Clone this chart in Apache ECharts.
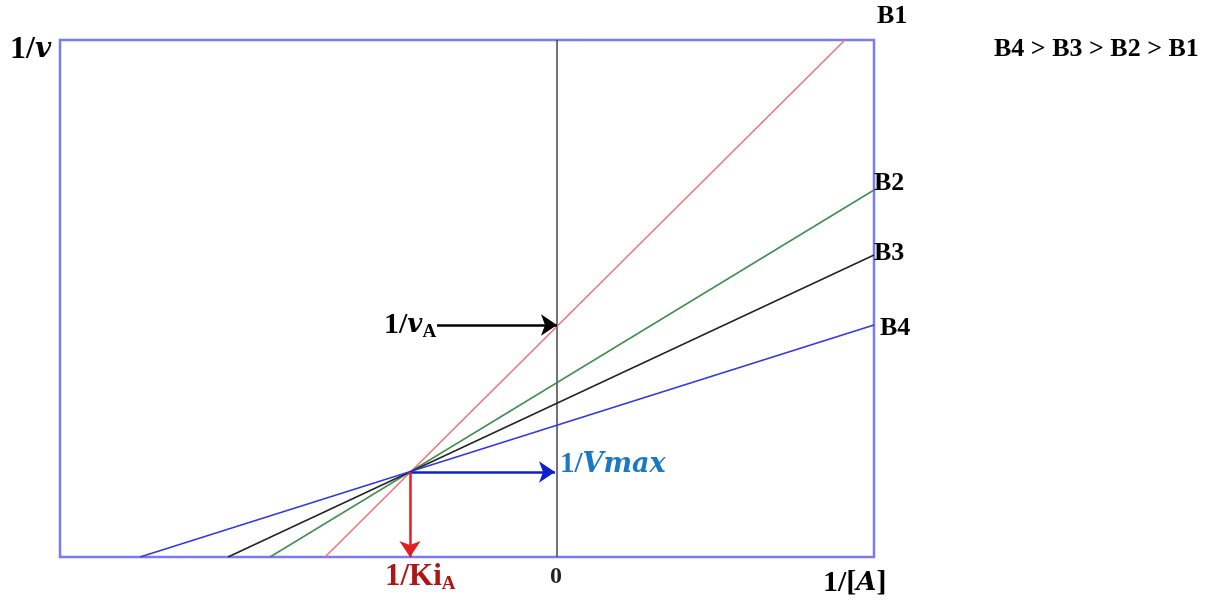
<!DOCTYPE html>
<html>
<head>
<meta charset="utf-8">
<script src="https://cdn.jsdelivr.net/npm/echarts@6/dist/echarts.min.js"></script>
<style>
  html, body { margin: 0; padding: 0; background: #fff; }
  #chart { width: 1221px; height: 605px; }
</style>
</head>
<body>
<div id="chart"></div>
<script>
// x = 1/[A], y = 1/v (arbitrary units)
const xRange = [-4.97, 3.17]
const yRange = [0, 5.17]
const seriesNames = ['B1', 'B2', 'B3', 'B4']
const b1Line = [[-2.32, 0], [2.88, 5.17]]
const b2Line = [[-2.87, 0], [3.17, 3.67]]
const b3Line = [[-3.29, 0], [3.17, 3.02]]
const b4Line = [[-4.17, 0], [3.17, 2.32]]
const yAxisLine = [[0, 0], [0, 5.17]]
const vaArrow = [[-1.2, 2.32], [0, 2.32]]
const vmaxArrow = [[-1.47, 0.85], [-0.02, 0.85]]
const kiArrow = [[-1.47, 0.85], [-1.47, 0]]

const serif = '"Liberation Serif", serif'
const math = '"DejaVu Serif", serif'

const chart = echarts.init(document.getElementById('chart'))

function lineSeries(name, data, color) {
  return {
    name: name,
    type: 'line',
    data: data,
    symbol: 'none',
    silent: true,
    lineStyle: { color: color, width: 1.5 },
    z: 3,
  }
}

function arrow(data, color) {
  return {
    type: 'lines',
    coordinateSystem: 'cartesian2d',
    polyline: false,
    silent: true,
    symbol: ['none', 'arrow'],
    symbolSize: [10, 16],
    lineStyle: { color: color, width: 2.5, opacity: 1 },
    data: [{ coords: data }],
    z: 5,
  }
}

const option = {
  backgroundColor: '#fff',
  animation: false,
  grid: {
    left: 60,
    right: 347,
    top: 40,
    bottom: 48,
    show: true,
    borderColor: '#7b7bf0',
    borderWidth: 2.5,
    backgroundColor: 'transparent',
  },
  xAxis: {
    type: 'value',
    min: xRange[0],
    max: xRange[1],
    axisLine: { show: false },
    axisTick: { show: false },
    axisLabel: { show: false },
    splitLine: { show: false },
  },
  yAxis: {
    type: 'value',
    min: yRange[0],
    max: yRange[1],
    axisLine: { show: false },
    axisTick: { show: false },
    axisLabel: { show: false },
    splitLine: { show: false },
  },
  series: [
    lineSeries('axis', yAxisLine, '#444'),
    lineSeries(seriesNames[0], b1Line, '#f07272'),
    lineSeries(seriesNames[1], b2Line, '#3f9050'),
    lineSeries(seriesNames[2], b3Line, '#222'),
    lineSeries(seriesNames[3], b4Line, '#3038e0'),
    arrow(vaArrow, '#000'),
    arrow(vmaxArrow, '#1020d0'),
    arrow(kiArrow, '#e02020'),
  ],
  graphic: [
    {
      type: 'text', left: 10, top: 34,
      style: {
        text: '{n|1/}{i|v}',
        rich: {
          n: { font: 'bold 32px ' + serif, fill: '#000' },
          i: { font: 'bold italic 28px ' + math, fill: '#000' },
        },
      },
    },
    {
      type: 'text', left: 384, top: 310,
      style: {
        text: '{n|1/}{i|v}{s|A}',
        rich: {
          n: { font: 'bold 30px ' + serif, fill: '#000' },
          i: { font: 'bold italic 26px ' + math, fill: '#000' },
          s: { font: 'bold 19px ' + serif, fill: '#000', padding: [14, 0, 0, 0] },
        },
      },
    },
    {
      type: 'text', left: 560, top: 450,
      style: {
        text: '{n|1/}{i|Vmax}',
        rich: {
          n: { font: 'bold 29px ' + serif, fill: '#1a78c8' },
          i: { font: 'bold italic 27px ' + math, fill: '#1a78c8' },
        },
      },
    },
    {
      type: 'text', left: 385, top: 561,
      style: {
        text: '{n|1/Ki}{s|A}',
        rich: {
          n: { font: 'bold 31px ' + serif, fill: '#b01414' },
          s: { font: 'bold 19px ' + serif, fill: '#b01414', padding: [15, 0, 0, 0] },
        },
      },
    },
    {
      type: 'text', left: 550, top: 565,
      style: { text: '0', font: 'bold 24px ' + serif, fill: '#222' },
    },
    {
      type: 'text', left: 823, top: 568,
      style: {
        text: '{n|1/[}{i|A}{n|]}',
        rich: {
          n: { font: 'bold 30px ' + serif, fill: '#000' },
          i: { font: 'bold italic 26px ' + math, fill: '#000' },
        },
      },
    },
    { type: 'text', left: 877, top: 3, style: { text: 'B1', font: 'bold 26px ' + serif, fill: '#000' } },
    { type: 'text', left: 874, top: 170, style: { text: 'B2', font: 'bold 26px ' + serif, fill: '#000' } },
    { type: 'text', left: 874, top: 240, style: { text: 'B3', font: 'bold 26px ' + serif, fill: '#000' } },
    { type: 'text', left: 880, top: 315, style: { text: 'B4', font: 'bold 26px ' + serif, fill: '#000' } },
    {
      type: 'text', left: 994, top: 36,
      style: { text: 'B4 > B3 > B2 > B1', font: 'bold 26px ' + serif, fill: '#000' },
    },
  ],
}

chart.setOption(option)
window.addEventListener('resize', () => {
  chart.resize()
})
</script>
</body>
</html>
